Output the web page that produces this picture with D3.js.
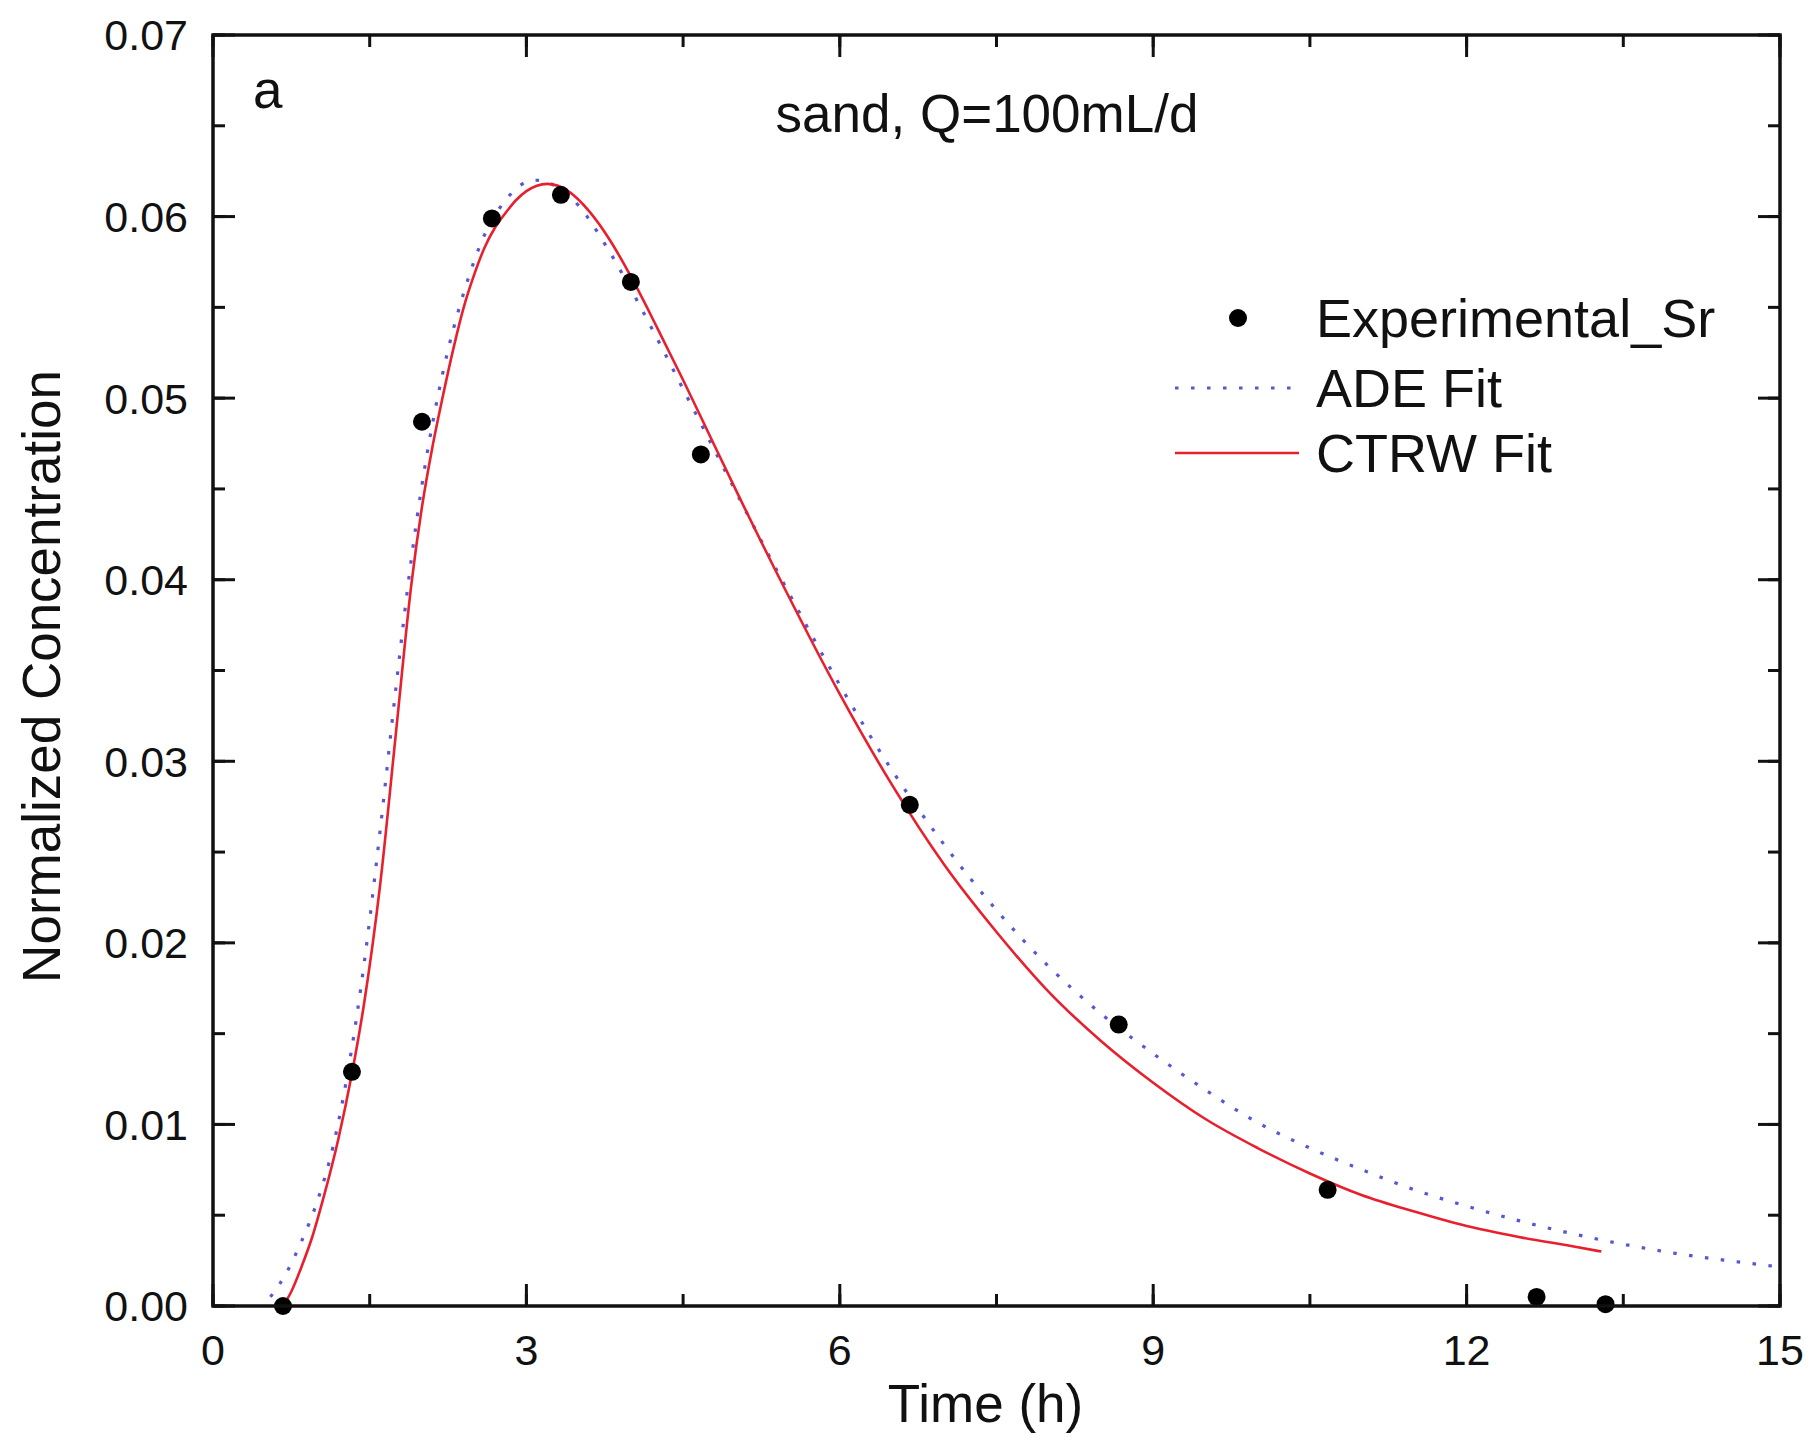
<!DOCTYPE html>
<html>
<head>
<meta charset="utf-8">
<script src="https://cdn.jsdelivr.net/npm/d3@7"></script>
<style>
  body { margin: 0; background: #fff; }
  svg text { font-family: "Liberation Sans", Arial, sans-serif; fill: #111; }
</style>
</head>
<body>
<div id="chart"></div>
<script>
// measured points (time h, normalized concentration)
var expTime = [0.67, 1.33, 2.0, 2.67, 3.33, 4.0, 4.67, 6.67, 8.67, 10.67, 12.67, 13.33];
var expConc = [0.0, 0.0129, 0.0487, 0.0599, 0.0612, 0.0564, 0.0469, 0.0276, 0.0155, 0.0064, 0.0005, 0.0001];

// ADE fit (dotted blue)
var adeTime = [0.55, 0.7, 0.85, 1.0, 1.15, 1.3, 1.45, 1.6, 1.75, 1.9, 2.0, 2.2, 2.4, 2.6, 2.8, 3.0, 3.1, 3.3, 3.5, 3.75, 4.0, 4.25, 4.5, 4.75, 5.0, 5.5, 6.0, 6.5, 7.0, 7.5, 8.0, 8.5, 9.0, 9.5, 10.0, 10.5, 11.0, 11.5, 12.0, 12.5, 13.0, 13.5, 14.0, 14.5, 15.0];
var adeConc = [0.0005, 0.0018, 0.0036, 0.0058, 0.0088, 0.0132, 0.0190, 0.0262, 0.0340, 0.0412, 0.0452, 0.0514, 0.0558, 0.0590, 0.0609, 0.0619, 0.0620, 0.0616, 0.0606, 0.0585, 0.0560, 0.0533, 0.0505, 0.0477, 0.0449, 0.0394, 0.0342, 0.0295, 0.0254, 0.0218, 0.0187, 0.0161, 0.0139, 0.0119, 0.0101, 0.0087, 0.0075, 0.0064, 0.0055, 0.0047, 0.0040, 0.0034, 0.0029, 0.0025, 0.00215];

// CTRW fit (solid red)
var ctrwTime = [0.67, 0.75, 0.85, 0.95, 1.05, 1.2, 1.33, 1.45, 1.6, 1.75, 1.9, 2.0, 2.1, 2.2, 2.3, 2.4, 2.5, 2.6, 2.7, 2.8, 2.9, 3.0, 3.1, 3.2, 3.4, 3.6, 3.8, 4.0, 4.25, 4.5, 4.75, 5.0, 5.5, 6.0, 6.5, 7.0, 7.5, 8.0, 8.5, 9.0, 9.5, 10.0, 10.5, 11.0, 11.5, 12.0, 12.5, 13.0, 13.29];
var ctrwConc = [0.0, 0.0008, 0.0022, 0.0038, 0.0058, 0.0092, 0.0128, 0.0168, 0.0232, 0.0315, 0.0398, 0.0440, 0.0473, 0.0501, 0.0527, 0.0550, 0.0568, 0.0583, 0.0594, 0.0602, 0.0609, 0.0614, 0.0617, 0.0618, 0.0614, 0.0603, 0.0587, 0.0567, 0.0539, 0.0510, 0.0480, 0.0450, 0.0392, 0.0337, 0.0287, 0.0243, 0.0206, 0.0173, 0.0146, 0.0123, 0.0103, 0.0087, 0.0073, 0.0061, 0.0052, 0.0044, 0.0038, 0.0033, 0.0030];

var xTicks = [0, 3, 6, 9, 12, 15];
var yTicks = [0, 0.01, 0.02, 0.03, 0.04, 0.05, 0.06, 0.07];
var legendNames = ["Experimental_Sr", "ADE Fit", "CTRW Fit"];

var W = 1811, H = 1437;
var margin = {top: 35, right: 31, bottom: 131, left: 213};
var width = W - margin.left - margin.right;
var height = H - margin.top - margin.bottom;

var redColor = "#e8202e";
var blueColor = "#5558d0";

var svg = d3.select("#chart").append("svg")
    .attr("width", W)
    .attr("height", H);

var g = svg.append("g")
    .attr("transform", `translate(${margin.left},${margin.top})`);

var x = d3.scaleLinear().domain([0, 15]).range([0, width]);
var y = d3.scaleLinear().domain([0, 0.07]).range([height, 0]);

// curves
var ade = adeTime.map((t, i) => [t, adeConc[i]]);
var ctrw = ctrwTime.map((t, i) => [t, ctrwConc[i]]);

var line = d3.line()
    .curve(d3.curveMonotoneX)
    .x(d => x(d[0]))
    .y(d => y(d[1]));

g.append("path")
    .datum(ade)
    .attr("fill", "none")
    .attr("stroke", blueColor)
    .attr("stroke-width", 3.2)
    .attr("stroke-dasharray", "3.5 12.5")
    .attr("d", line);

g.append("path")
    .datum(ctrw)
    .attr("fill", "none")
    .attr("stroke", redColor)
    .attr("stroke-width", 2.6)
    .attr("d", line);

g.selectAll(".pt")
    .data(expTime.map((t, i) => [t, expConc[i]]))
    .enter().append("circle")
    .attr("class", "pt")
    .attr("cx", d => x(d[0]))
    .attr("cy", d => y(d[1]))
    .attr("r", 9)
    .attr("fill", "#000");

// axes: ticks point inward on all four sides
var xMinor = d3.range(0, 15.01, 1.5);
var yMinor = d3.range(0, 0.0701, 0.005);

function tickLines(sel, vals, len, horizontal, pos, dir) {
    sel.selectAll(null).data(vals).enter().append("line")
        .attr("x1", d => horizontal ? x(d) : pos)
        .attr("x2", d => horizontal ? x(d) : pos + dir * len)
        .attr("y1", d => horizontal ? pos : y(d))
        .attr("y2", d => horizontal ? pos + dir * len : y(d))
        .attr("stroke", "#111")
        .attr("stroke-width", 3);
}
var ticks = g.append("g");
tickLines(ticks, xMinor, 12, true, height, -1);
tickLines(ticks, xTicks, 22, true, height, -1);
tickLines(ticks, xMinor, 12, true, 0, 1);
tickLines(ticks, xTicks, 22, true, 0, 1);
tickLines(ticks, yMinor, 12, false, 0, 1);
tickLines(ticks, yTicks, 22, false, 0, 1);
tickLines(ticks, yMinor, 12, false, width, -1);
tickLines(ticks, yTicks, 22, false, width, -1);

g.append("rect")
    .attr("width", width)
    .attr("height", height)
    .attr("fill", "none")
    .attr("stroke", "#111")
    .attr("stroke-width", 3.5);

// tick labels
g.selectAll(".xl").data(xTicks).enter().append("text")
    .attr("x", d => x(d))
    .attr("y", height + 59)
    .attr("text-anchor", "middle")
    .style("font-size", "43px")
    .text(d => d);

g.selectAll(".yl").data(yTicks).enter().append("text")
    .attr("x", -25)
    .attr("y", d => y(d))
    .attr("dy", "0.36em")
    .attr("text-anchor", "end")
    .style("font-size", "43px")
    .text(d => d.toFixed(2));

// axis titles
svg.append("text")
    .attr("x", margin.left + width / 2 - 11)
    .attr("y", 1422)
    .attr("text-anchor", "middle")
    .style("font-size", "53px")
    .text("Time (h)");

svg.append("text")
    .attr("transform", "rotate(-90)")
    .attr("x", -(margin.top + height / 2) - 6)
    .attr("y", 60)
    .attr("text-anchor", "middle")
    .style("font-size", "53px")
    .text("Normalized Concentration");

// panel label and title
svg.append("text")
    .attr("x", 253)
    .attr("y", 108)
    .style("font-size", "53px")
    .text("a");

svg.append("text")
    .attr("x", 987)
    .attr("y", 132)
    .attr("text-anchor", "middle")
    .style("font-size", "53px")
    .text("sand, Q=100mL/d");

// legend
var legend = svg.append("g");
var legY = [318, 388, 453];
legend.append("circle")
    .attr("cx", 1238).attr("cy", legY[0]).attr("r", 9).attr("fill", "#000");
legend.append("line")
    .attr("x1", 1175).attr("x2", 1297).attr("y1", legY[1]).attr("y2", legY[1])
    .attr("stroke", blueColor).attr("stroke-width", 3.2)
    .attr("stroke-dasharray", "3.5 12.5");
legend.append("line")
    .attr("x1", 1175).attr("x2", 1299).attr("y1", legY[2]).attr("y2", legY[2])
    .attr("stroke", redColor).attr("stroke-width", 2.6);
legend.selectAll(".lt").data(legendNames).enter().append("text")
    .attr("x", 1316)
    .attr("y", (d, i) => legY[i] + 19)
    .style("font-size", "54px")
    .text(d => d);
</script>
</body>
</html>
